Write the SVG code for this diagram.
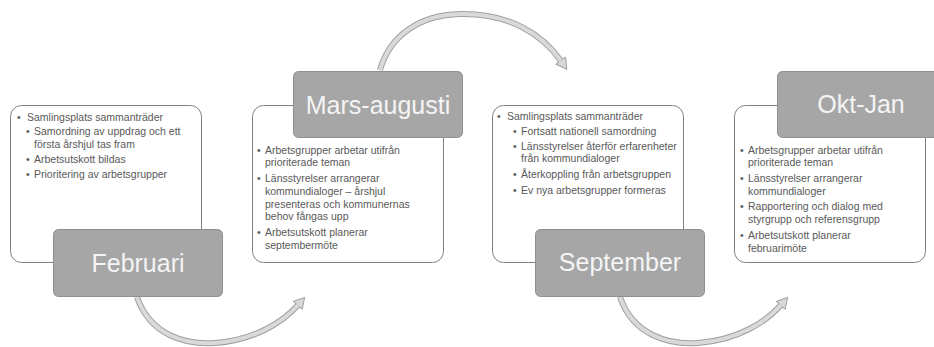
<svg xmlns="http://www.w3.org/2000/svg" width="934" height="347" viewBox="0 0 934 347">
<style>
.card{fill:#ffffff;stroke:#808080;stroke-width:1}
.label{fill:#a6a6a6;stroke:#8f8f8f;stroke-width:1}
.lt{font-family:"Liberation Sans",Arial,sans-serif;font-size:25px;fill:#f4f4f4;text-anchor:middle}
.t{font-family:"Liberation Sans",Arial,sans-serif;font-size:10.5px;fill:#595959}
.outer{fill:none;stroke:#a0a0a0;stroke-width:6}
.inner{fill:none;stroke:#d9d9d9;stroke-width:4}
</style>
<defs>
<marker id="ah" viewBox="0 0 12 14" refX="1" refY="7" markerWidth="12" markerHeight="14" markerUnits="userSpaceOnUse" orient="auto">
<path d="M0.5,1 L11,7 L0.5,13 Z" fill="#d9d9d9" stroke="#a0a0a0" stroke-width="1"/>
</marker>
</defs>
<g id="connectors">
<path class="outer" d="M137,297 C150,335 185,345 215,343 C255,340 283,322 298,305" marker-end="url(#ah)"/>
<path class="inner" d="M137,297 C150,335 185,345 215,343 C255,340 283,322 298,305"/>
<path class="outer" d="M380,70 C390,35 420,15 460,14 C510,13 543,35 561,61" marker-end="url(#ah)"/>
<path class="inner" d="M380,70 C390,35 420,15 460,14 C510,13 543,35 561,61"/>
<path class="outer" d="M620,297 C633,335 668,345 698,343 C738,340 766,322 781,305" marker-end="url(#ah)"/>
<path class="inner" d="M620,297 C633,335 668,345 698,343 C738,340 766,322 781,305"/>
</g>
<g id="februari">
<rect class="card" x="10.5" y="105.5" width="191" height="157" rx="11"/>
<text class="t"><tspan x="17" y="121">•</tspan><tspan x="27" y="121">Samlingsplats sammanträder</tspan><tspan x="26" y="135">•</tspan><tspan x="34" y="135">Samordning av uppdrag och ett</tspan><tspan x="34" y="148">första årshjul tas fram</tspan><tspan x="26" y="163">•</tspan><tspan x="34" y="163">Arbetsutskott bildas</tspan><tspan x="26" y="178">•</tspan><tspan x="34" y="178">Prioritering av arbetsgrupper</tspan></text>
<rect class="label" x="53.5" y="229.5" width="169" height="67" rx="5"/>
<text class="lt" x="138" y="272">Februari</text>
</g>
<g id="mars-augusti">
<rect class="card" x="252.5" y="105.5" width="191" height="157" rx="11"/>
<text class="t"><tspan x="257" y="154">•</tspan><tspan x="265" y="154">Arbetsgrupper arbetar utifrån</tspan><tspan x="265" y="166">prioriterade teman</tspan><tspan x="257" y="182">•</tspan><tspan x="265" y="182">Länsstyrelser arrangerar</tspan><tspan x="265" y="195">kommundialoger – årshjul</tspan><tspan x="265" y="208">presenteras och kommunernas</tspan><tspan x="265" y="220">behov fångas upp</tspan><tspan x="257" y="236">•</tspan><tspan x="265" y="236">Arbetsutskott planerar</tspan><tspan x="265" y="249">septembermöte</tspan></text>
<rect class="label" x="293.5" y="71.5" width="169" height="66" rx="5"/>
<text class="lt" x="378" y="114">Mars-augusti</text>
</g>
<g id="september">
<rect class="card" x="492.5" y="105.5" width="191" height="157" rx="11"/>
<text class="t"><tspan x="497" y="120">•</tspan><tspan x="507" y="120">Samlingsplats sammanträder</tspan><tspan x="513" y="135">•</tspan><tspan x="521" y="135">Fortsatt nationell samordning</tspan><tspan x="513" y="150">•</tspan><tspan x="521" y="150">Länsstyrelser återför erfarenheter</tspan><tspan x="521" y="162">från kommundialoger</tspan><tspan x="513" y="178">•</tspan><tspan x="521" y="178">Återkoppling från arbetsgruppen</tspan><tspan x="513" y="194">•</tspan><tspan x="521" y="194">Ev nya arbetsgrupper formeras</tspan></text>
<rect class="label" x="535.5" y="229.5" width="169" height="67" rx="5"/>
<text class="lt" x="620" y="271">September</text>
</g>
<g id="okt-jan">
<rect class="card" x="734.5" y="105.5" width="191" height="157" rx="11"/>
<text class="t"><tspan x="740" y="154">•</tspan><tspan x="748" y="154">Arbetsgrupper arbetar utifrån</tspan><tspan x="748" y="166">prioriterade teman</tspan><tspan x="740" y="182">•</tspan><tspan x="748" y="182">Länsstyrelser arrangerar</tspan><tspan x="748" y="195">kommundialoger</tspan><tspan x="740" y="210">•</tspan><tspan x="748" y="210">Rapportering och dialog med</tspan><tspan x="748" y="223">styrgrupp och referensgrupp</tspan><tspan x="740" y="239">•</tspan><tspan x="748" y="239">Arbetsutskott planerar</tspan><tspan x="748" y="252">februarimöte</tspan></text>
<rect class="label" x="777.5" y="71.5" width="169" height="66" rx="5"/>
<text class="lt" x="861" y="113">Okt-Jan</text>
</g>
</svg>
